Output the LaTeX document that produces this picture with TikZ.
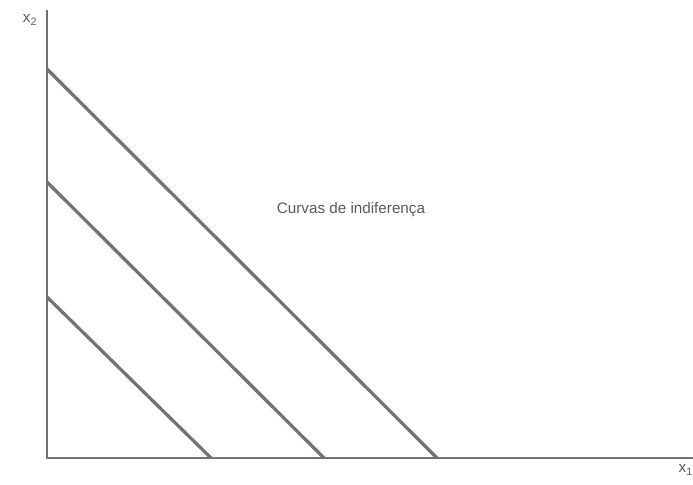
\documentclass[tikz,border=0pt]{standalone}
\usepackage{fontspec}
\setmainfont{Liberation Sans}
\definecolor{linegray}{gray}{0.45}
\definecolor{textgray}{gray}{0.35}
\begin{document}
\begin{tikzpicture}[x=0.03cm,y=-0.03cm,
				axis/.style={draw=linegray,line width=1.5pt},
				curve/.style={draw=linegray,line width=2.8pt},
				label/.style={text=textgray,inner sep=0pt}]
\useasboundingbox (0,0) rectangle (693,485);
% axes
\coordinate (o) at (47,458);
\coordinate (ytop) at (47,10);
\coordinate (xend) at (693,458);
\draw[axis] (ytop) -- (o) -- (xend);
\node[label,font=\fontsize{13}{15}\selectfont] (x2) at (30,20) {x\textsubscript{2}};
\node[label,font=\fontsize{13}{15}\selectfont,anchor=east] (x1) at (693,470) {x\textsubscript{1}};
% indifference curves
\coordinate (a1) at (47,297);
\coordinate (b1) at (211,458);
\coordinate (a2) at (47,182);
\coordinate (b2) at (324,458);
\coordinate (a3) at (47,69);
\coordinate (b3) at (437,458);
\draw[curve] (a1) -- (b1);
\draw[curve] (a2) -- (b2);
\draw[curve] (a3) -- (b3);
\node[label,font=\fontsize{13}{15}\selectfont] (txt) at (351,210) {Curvas de indiferença};
\end{tikzpicture}
\end{document}
